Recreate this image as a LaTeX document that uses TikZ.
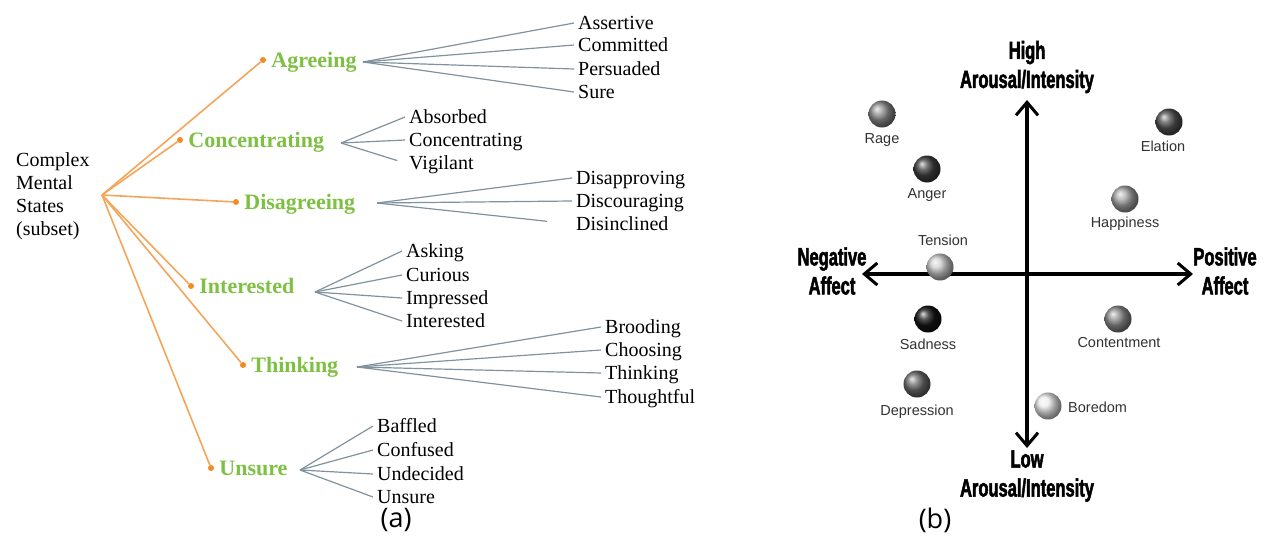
\documentclass[tikz,border=0pt]{standalone}
\usepackage{fontspec}
\setmainfont{Liberation Serif}
\newfontfamily\capfont{Open Sans}
\newfontfamily\ballfont{Liberation Sans}
\newfontfamily\axisfont{Liberation Sans}[BoldFeatures={FakeStretch=0.66,FakeBold=2}]
\usepackage{tikz}
\usetikzlibrary{positioning,arrows.meta,calc}
\definecolor{stemorange}{RGB}{245,165,90}
\definecolor{dotorange}{RGB}{240,140,35}
\definecolor{catgreen}{RGB}{125,192,66}
\definecolor{fangray}{RGB}{128,146,158}
\definecolor{balltext}{RGB}{50,50,50}
\tikzset{
    node distance=3pt,
    root/.style = {
        align=left,
        anchor=west,
        inner sep=3pt,
        font=\fontsize{20}{23}\selectfont
    },
    catdot/.style = {
        shape=circle,
        fill=dotorange,
        inner sep=0pt,
        minimum size=6pt
    },
    cat/.style = {
        inner sep=2pt,
        text=catgreen,
        text height=14pt,
        text depth=0pt,
        font=\fontsize{22}{26}\selectfont\bfseries
    },
    leaf/.style = {
        anchor=west,
        inner sep=4pt,
        text height=13pt,
        text depth=0pt,
        font=\fontsize{20}{23}\selectfont
    },
    stem/.style = {draw=stemorange, line width=1.6pt},
    fan/.style = {draw=fangray, line width=1.2pt},
    sphere/.style = {
        shape=circle,
        shading=ball,
        minimum size=27pt,
        inner sep=0pt
    },
    balllab/.style = {
        text=balltext,
        inner sep=1pt,
        font=\ballfont\fontsize{14.5}{17}\selectfont
    },
    axislab/.style = {
        align=center,
        inner sep=1pt,
        font=\axisfont\bfseries\fontsize{25}{29}\selectfont
    },
    axisline/.style = {
        draw,
        line width=4pt,
        {Straight Barb[length=13pt,width=22pt,line width=3pt]}-{Straight Barb[length=13pt,width=22pt,line width=3pt]}
    },
    caption/.style = {font=\capfont\fontsize{27}{30}\selectfont},
}

\begin{document}
\begin{tikzpicture}[x=1pt, y=-1pt]
            \useasboundingbox (0,0) rectangle (1265,546);

            % (a) tree of mental states
            \node[root] (states) at (13,196) {Complex\\Mental\\States\\(subset)};
            \coordinate (stemroot) at (102,195);

            \node[catdot] (agreedot)  at (263,60)  {};
            \node[catdot] (concdot)   at (180,140) {};
            \node[catdot] (disdot)    at (236,202) {};
            \node[catdot] (intdot)    at (191,286) {};
            \node[catdot] (thinkdot)  at (243,365) {};
            \node[catdot] (unsdot)    at (211,468) {};

            \node[cat, right=3pt of agreedot] (agree) {Agreeing};
            \node[cat, right=3pt of concdot]  (conc)  {Concentrating};
            \node[cat, right=3pt of disdot]   (dis)   {Disagreeing};
            \node[cat, right=3pt of intdot]   (int)   {Interested};
            \node[cat, right=3pt of thinkdot] (think) {Thinking};
            \node[cat, right=3pt of unsdot]   (uns)   {Unsure};

            \path[stem] (stemroot) -- (agreedot);
            \path[stem] (stemroot) -- (concdot);
            \path[stem] (stemroot) -- (disdot);
            \path[stem] (stemroot) -- (intdot);
            \path[stem] (stemroot) -- (thinkdot);
            \path[stem] (stemroot) -- (unsdot);

            \coordinate (agreefan) at (363,62);
            \coordinate (concfan)  at (341,143);
            \coordinate (disfan)   at (377,203);
            \coordinate (intfan)   at (315,292);
            \coordinate (thinkfan) at (357,367);
            \coordinate (unsfan)   at (300,470);

            \node[leaf] (assertive)   at (574,23)  {Assertive};
            \node[leaf] (committed)   at (574,45)  {Committed};
            \node[leaf] (persuaded)   at (574,69)  {Persuaded};
            \node[leaf] (sure)        at (574,92)  {Sure};

            \node[leaf] (absorbed)    at (405,117) {Absorbed};
            \node[leaf] (concleaf)    at (405,140) {Concentrating};
            \node[leaf] (vigilant)    at (405,163) {Vigilant};

            \node[leaf] (disapprove)  at (572,178) {Disapproving};
            \node[leaf] (discourage)  at (572,201) {Discouraging};
            \node[leaf] (disinclined) at (572,224) {Disinclined};

            \node[leaf] (asking)      at (402,251) {Asking};
            \node[leaf] (curious)     at (402,275) {Curious};
            \node[leaf] (impressed)   at (402,298) {Impressed};
            \node[leaf] (intleaf)     at (402,321) {Interested};

            \node[leaf] (brooding)    at (601,327) {Brooding};
            \node[leaf] (choosing)    at (601,350) {Choosing};
            \node[leaf] (thinkleaf)   at (601,373) {Thinking};
            \node[leaf] (thoughtful)  at (601,397) {Thoughtful};

            \node[leaf] (baffled)     at (373,426) {Baffled};
            \node[leaf] (confused)    at (373,450) {Confused};
            \node[leaf] (undecided)   at (373,474) {Undecided};
            \node[leaf] (unsleaf)     at (373,497) {Unsure};

            \path[fan] (agreefan) -- (assertive.west);
            \path[fan] (agreefan) -- (committed.west);
            \path[fan] (agreefan) -- (persuaded.west);
            \path[fan] (agreefan) -- (sure.west);

            \path[fan] (concfan) -- (absorbed.west);
            \path[fan] (concfan) -- (concleaf.west);
            \path[fan, shorten >=8pt] (concfan) -- (vigilant.west);

            \path[fan] (disfan) -- (disapprove.west);
            \path[fan] (disfan) -- (discourage.west);
            \path[fan, shorten >=25pt] (disfan) -- (disinclined.west);

            \path[fan] (intfan) -- (asking.west);
            \path[fan] (intfan) -- (curious.west);
            \path[fan] (intfan) -- (impressed.west);
            \path[fan] (intfan) -- (intleaf.west);

            \path[fan] (thinkfan) -- (brooding.west);
            \path[fan] (thinkfan) -- (choosing.west);
            \path[fan] (thinkfan) -- (thinkleaf.west);
            \path[fan] (thinkfan) -- (thoughtful.west);

            \path[fan] (unsfan) -- (baffled.west);
            \path[fan] (unsfan) -- (confused.west);
            \path[fan] (unsfan) -- (undecided.west);
            \path[fan] (unsfan) -- (unsleaf.west);

            \node[caption] (capa) at (396,520) {(a)};

            % (b) arousal / affect plane
            \node[axislab] (high) at (1027,67)  {High\\Arousal/Intensity};
            \node[axislab] (low)  at (1027,476) {Low\\Arousal/Intensity};
            \node[axislab] (neg)  at (832,271)  {Negative\\Affect};
            \node[axislab] (pos)  at (1225,271) {Positive\\Affect};

            \coordinate (ytop)   at (1027,100);
            \coordinate (ybot)   at (1027,448);
            \coordinate (xleft)  at (862,274);
            \coordinate (xright) at (1193,274);

            \path[axisline] (xleft) -- (xright);
            \path[axisline] (ybot) -- (ytop);

            \node[sphere, ball color=black!45] (rage)    at (882,114)  {};
            \node[sphere, ball color=black!75] (anger)   at (927,169)  {};
            \node[sphere, ball color=black!20] (tension) at (940,267)  {};
            \node[sphere, ball color=black!68] (elation) at (1169,122) {};
            \node[sphere, ball color=black!35] (happy)   at (1125,199) {};
            \node[sphere, ball color=black!92] (sad)     at (928,319)  {};
            \node[sphere, ball color=black!45] (content) at (1118,319) {};
            \node[sphere, ball color=black!58] (depress) at (917,384)  {};
            \node[sphere, ball color=black!8]  (bored)   at (1048,406) {};

            \node[balllab] (ragelab)    at (882,140)  {Rage};
            \node[balllab] (angerlab)   at (927,195)  {Anger};
            \node[balllab] (tensionlab) at (943,240)  {Tension};
            \node[balllab] (elationlab) at (1163,146) {Elation};
            \node[balllab] (happylab)   at (1125,224) {Happiness};
            \node[balllab] (sadlab)     at (928,344)  {Sadness};
            \node[balllab] (contentlab) at (1119,343) {Contentment};
            \node[balllab] (depresslab) at (917,412)  {Depression};
            \node[balllab, anchor=west] (boredlab) at (1067,407) {Boredom};

            \node[caption] (capb) at (935,520) {(b)};
        \end{tikzpicture}
\end{document}
